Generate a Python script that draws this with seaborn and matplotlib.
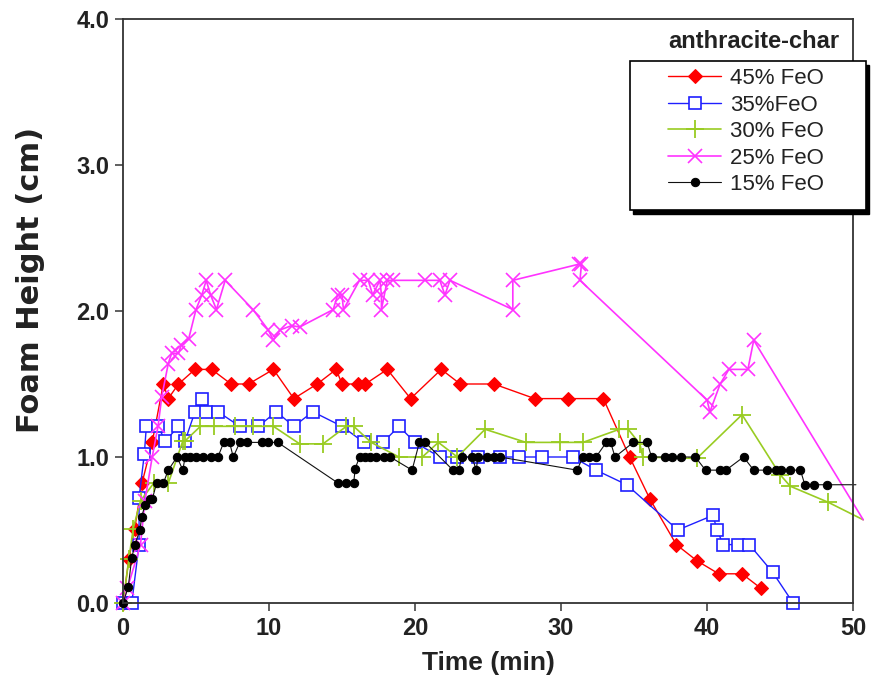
import matplotlib
matplotlib.use("Agg")
import matplotlib.pyplot as plt
import seaborn as sns
from matplotlib.patches import Rectangle

sns.set_theme(style="white")
plt.rcParams['font.family'] = ['Liberation Sans', 'DejaVu Sans']

# ---- data (Time in min, Foam height in cm) ----
labels = ["45% FeO", "35%FeO", "30% FeO", "25% FeO", "15% FeO"]

t45 = [0, 0.4, 0.8, 1.3, 2.0, 2.76, 3.1, 3.8, 4.93, 6.07, 7.4, 8.6, 10.3, 11.7, 13.3, 14.6, 15.0,
       16.1, 16.6, 18.1, 19.7, 21.8, 23.1, 25.4, 28.2, 30.5, 32.9, 34.7, 36.1, 37.9, 39.3, 40.8, 42.4, 43.7]
h45 = [0, 0.3, 0.51, 0.82, 1.1, 1.5, 1.4, 1.5, 1.6, 1.6, 1.5, 1.5, 1.6, 1.4, 1.5, 1.6, 1.5,
       1.5, 1.5, 1.6, 1.4, 1.6, 1.5, 1.5, 1.4, 1.4, 1.4, 1.0, 0.71, 0.4, 0.29, 0.2, 0.2, 0.1]

t35 = [0, 0.6, 1.1, 1.1, 1.46, 1.6, 2.4, 2.9, 3.8, 4.25, 4.93, 5.4, 5.7, 6.5, 8.0, 9.27, 10.5, 11.7,
       13.0, 15.0, 16.5, 17.8, 18.9, 20.0, 21.7, 22.9, 24.3, 25.8, 27.1, 28.7, 30.8, 32.4, 34.5, 38.0,
       40.4, 40.7, 41.1, 42.1, 42.9, 44.5, 45.9]
h35 = [0, 0, 0.4, 0.72, 1.02, 1.21, 1.21, 1.11, 1.21, 1.11, 1.31, 1.4, 1.31, 1.31, 1.21, 1.21, 1.31, 1.21,
       1.31, 1.21, 1.1, 1.1, 1.21, 1.1, 1.0, 1.0, 1.0, 1.0, 1.0, 1.0, 1.0, 0.91, 0.81, 0.5,
       0.6, 0.5, 0.4, 0.4, 0.4, 0.21, 0.0]

t30 = [0, 0.4, 0.7, 1.2, 2.1, 3.1, 4.1, 4.25, 5.3, 6.2, 7.7, 8.9, 10.3, 12.1, 13.7, 15.3, 15.8, 17.0,
       18.9, 20.5, 21.6, 22.9, 24.8, 27.6, 29.9, 31.5, 34.0, 34.6, 35.4, 35.6, 39.3, 42.4, 45.0, 45.7,
       48.3, 50.7]
h30 = [0, 0.3, 0.51, 0.7, 0.82, 0.82, 1.11, 1.11, 1.21, 1.21, 1.21, 1.21, 1.21, 1.09, 1.09, 1.21, 1.21, 1.1,
       1.0, 1.0, 1.1, 1.0, 1.19, 1.1, 1.1, 1.1, 1.19, 1.19, 1.09, 1.0, 0.99, 1.29, 0.88, 0.8,
       0.69, 0.57]

t25 = [0, 0.3, 1.2, 1.5, 2.0, 2.4, 2.65, 3.1, 3.33, 3.8, 4.0, 4.5, 5.0, 5.4, 5.7, 6.0, 6.4, 7.0, 8.9,
       9.95, 10.3, 10.75, 11.55, 12.1, 14.4, 14.7, 15.0, 15.1, 16.2, 16.8, 17.1, 17.6, 17.7, 17.7, 18.1,
       18.5, 20.7, 21.7, 22.05, 22.4, 26.7, 26.7, 31.2, 31.4, 31.3, 40.0, 40.2, 40.9, 41.5, 42.8, 43.2, 50.7]
h25 = [0, 0.1, 0.4, 0.7, 1.0, 1.21, 1.41, 1.64, 1.71, 1.71, 1.77, 1.81, 2.01, 2.11, 2.21, 2.11, 2.01, 2.21, 2.01,
       1.87, 1.8, 1.87, 1.9, 1.89, 2.01, 2.11, 2.11, 2.01, 2.21, 2.21, 2.11, 2.21, 2.11, 2.01, 2.21,
       2.21, 2.21, 2.21, 2.11, 2.21, 2.01, 2.21, 2.32, 2.32, 2.21, 1.39, 1.31, 1.5, 1.6, 1.6, 1.8, 0.57]

t15 = [0, 0.36, 0.6, 0.82, 1.16, 1.28, 1.5, 1.85, 2.0, 2.3, 2.76, 3.1, 3.7, 4.1, 4.25, 4.6, 5.0, 5.5,
       6.0, 6.5, 6.9, 7.3, 7.55, 8.0, 8.5, 9.5, 9.95, 10.6, 14.75, 15.3, 15.8, 15.9, 16.2, 16.6, 16.9,
       17.3, 17.9, 18.3, 19.8, 20.3, 20.7, 22.6, 23.0, 23.2, 23.9, 24.2, 24.3, 24.9, 25.4, 25.8, 31.1,
       31.5, 31.9, 32.4, 33.1, 33.4, 33.7, 34.95, 35.9, 36.2, 37.1, 37.6, 38.2, 39.2, 39.9, 40.9, 41.3,
       42.5, 43.2, 44.1, 44.7, 45.1, 45.7, 46.4, 46.7, 47.3, 48.2, 50.2]
h15 = [0, 0.11, 0.31, 0.4, 0.5, 0.59, 0.67, 0.71, 0.71, 0.82, 0.82, 0.91, 1.0, 0.91, 1.0, 1.0, 1.0, 1.0,
       1.0, 1.0, 1.1, 1.1, 1.0, 1.1, 1.1, 1.1, 1.1, 1.1, 0.82, 0.82, 0.82, 0.92, 1.0, 1.0, 1.0,
       1.0, 1.0, 1.0, 0.91, 1.1, 1.1, 0.91, 0.91, 1.0, 1.0, 0.91, 1.0, 1.0, 1.0, 1.0, 0.91,
       1.0, 1.0, 1.0, 1.1, 1.1, 1.0, 1.1, 1.1, 1.0, 1.0, 1.0, 1.0, 1.0, 0.91, 0.91, 0.91,
       1.0, 0.91, 0.91, 0.91, 0.91, 0.91, 0.91, 0.81, 0.81, 0.81, 0.81]

xticks = [0, 10, 20, 30, 40, 50]
yticks = [0.0, 1.0, 2.0, 3.0, 4.0]

# ---- figure ----
W, H = 872, 696
fig = plt.figure(figsize=(W / 100, H / 100), dpi=100)
L, R, T, B = 123, 853, 19, 603
ax = fig.add_axes([L / W, 1 - B / H, (R - L) / W, (B - T) / H])
ax.set_facecolor("white")

styles = [
    dict(color="#ff0000", marker="D", markersize=7, markerfacecolor="#ff0000", markeredgecolor="#ff0000", lw=1.0),
    dict(color="#1f1fff", marker="s", markersize=9, markerfacecolor="white", markeredgecolor="#1f1fff",
         markeredgewidth=1.2, lw=1.0),
    dict(color="#99cc22", marker="+", markersize=13, markeredgecolor="#99cc22", markeredgewidth=1.3, lw=1.2),
    dict(color="#ff33ff", marker="x", markersize=10, markeredgecolor="#ff33ff", markeredgewidth=1.2, lw=1.2),
    dict(color="#111111", marker="o", markersize=6, markerfacecolor="black", markeredgecolor="black", lw=0.8),
]
series = [(t45, h45), (t35, h35), (t30, h30), (t25, h25), (t15, h15)]
# series whose last point is a line end without a marker
open_end = {"30% FeO", "25% FeO", "15% FeO"}

for (tx, hy), lab, st in zip(series, labels, styles):
    kw = dict(st)
    if lab in open_end:
        kw["markevery"] = list(range(len(tx) - 1))
    sns.lineplot(x=tx, y=hy, ax=ax, sort=False, estimator=None, label=lab, clip_on=False, **kw)

ax.set_xlim(0, 50)
ax.set_ylim(0, 4.0)
ax.set_xticks(xticks)
ax.set_yticks(yticks)
ax.set_yticklabels([f"{v:.1f}" for v in yticks])
ax.set_xticklabels([str(v) for v in xticks])

for lab in ax.get_xticklabels() + ax.get_yticklabels():
    lab.set_fontweight("bold")
    lab.set_fontsize(17)
    lab.set_color("#222222")

ax.tick_params(axis="both", which="major", direction="out", length=6, width=1.2, color="#444444",
               bottom=True, left=True, top=False, right=False, pad=4)
for s in ax.spines.values():
    s.set_visible(True)
    s.set_color("#333333")
    s.set_linewidth(1.3)

ax.set_xlabel("Time (min)", fontsize=19, fontweight="bold", color="#222222", labelpad=8)
ax.set_ylabel("Foam Height (cm)", fontsize=22, fontweight="bold", family=["DejaVu Sans"],
              color="#222222")
ax.yaxis.set_label_coords(-0.107, 0.553)

# title of legend
ax.text(0.982, 0.962, "anthracite-char", transform=ax.transAxes, ha="right", va="center",
        fontsize=17, fontweight="bold", color="#222222")

# legend box (frame drawn as patch with shadow)
bx0, bx1 = (630 - L) / (R - L), (866 - L) / (R - L)
by0, by1 = (B - 210) / (B - T), (B - 61) / (B - T)
shadow = Rectangle((bx0 + 0.004, by0 - 0.007), bx1 - bx0, by1 - by0, transform=ax.transAxes,
                   facecolor="black", edgecolor="black", clip_on=False, zorder=9)
frame = Rectangle((bx0, by0), bx1 - bx0, by1 - by0, transform=ax.transAxes,
                  facecolor="white", edgecolor="black", lw=1.2, clip_on=False, zorder=10)
ax.add_patch(shadow)
ax.add_patch(frame)

leg = ax.legend(loc="upper left", bbox_to_anchor=((668 - L) / (R - L), (B - 68) / (B - T)),
                frameon=False, fontsize=16, handlelength=2.4, handletextpad=0.4,
                labelspacing=0.25, borderpad=0, borderaxespad=0)
leg.set_zorder(11)
for txt in leg.get_texts():
    txt.set_color("#222222")

fig.savefig("out.png", dpi=100, facecolor="white")
